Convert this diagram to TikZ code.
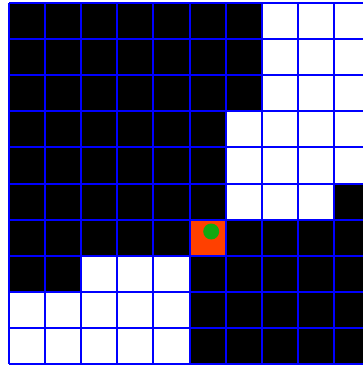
\documentclass[tikz,border=0pt]{standalone}
\definecolor{gridblue}{RGB}{0,0,255}
\definecolor{cellred}{RGB}{255,64,0}
\definecolor{dotgreen}{RGB}{16,168,16}
\tikzset{
  gridline/.style={draw=gridblue, line width=2pt},
  whitecell/.style={fill=white},
  blackcell/.style={fill=black},
  redcell/.style={fill=cellred},
  agent/.style={fill=dotgreen}
}
\begin{document}
\begin{tikzpicture}[x=1pt,y=-1pt]
\useasboundingbox (0,0) rectangle (363,367);
\clip (0,0) rectangle (363,367);
\fill[white] (0,0) rectangle (363,367);
\def\ox{9}\def\oy{3}\def\cs{36.1}
% black background of the grid
\fill[blackcell] (\ox,\oy) rectangle ({\ox+10*\cs},{\oy+10*\cs});
% white cells: (row, col)
\foreach \r/\c in {0/7,0/8,0/9,1/7,1/8,1/9,2/7,2/8,2/9,
                   3/6,3/7,3/8,3/9,4/6,4/7,4/8,4/9,5/6,5/7,5/8,
                   7/2,7/3,7/4,8/0,8/1,8/2,8/3,8/4,9/0,9/1,9/2,9/3,9/4}
  \fill[whitecell] ({\ox+\c*\cs},{\oy+\r*\cs}) rectangle ({\ox+(\c+1)*\cs},{\oy+(\r+1)*\cs});
% red cell
\fill[redcell] ({\ox+5*\cs},{\oy+6*\cs}) rectangle ({\ox+6*\cs},{\oy+7*\cs});
% grid lines
\foreach \i in {0,...,10}{
  \draw[gridline] ({\ox+\i*\cs},\oy) -- ({\ox+\i*\cs},{\oy+10*\cs});
  \draw[gridline] (\ox,{\oy+\i*\cs}) -- ({\ox+10*\cs},{\oy+\i*\cs});
}
% green dot
\fill[agent] (211.2,231.5) circle (8);
\end{tikzpicture}
\end{document}
